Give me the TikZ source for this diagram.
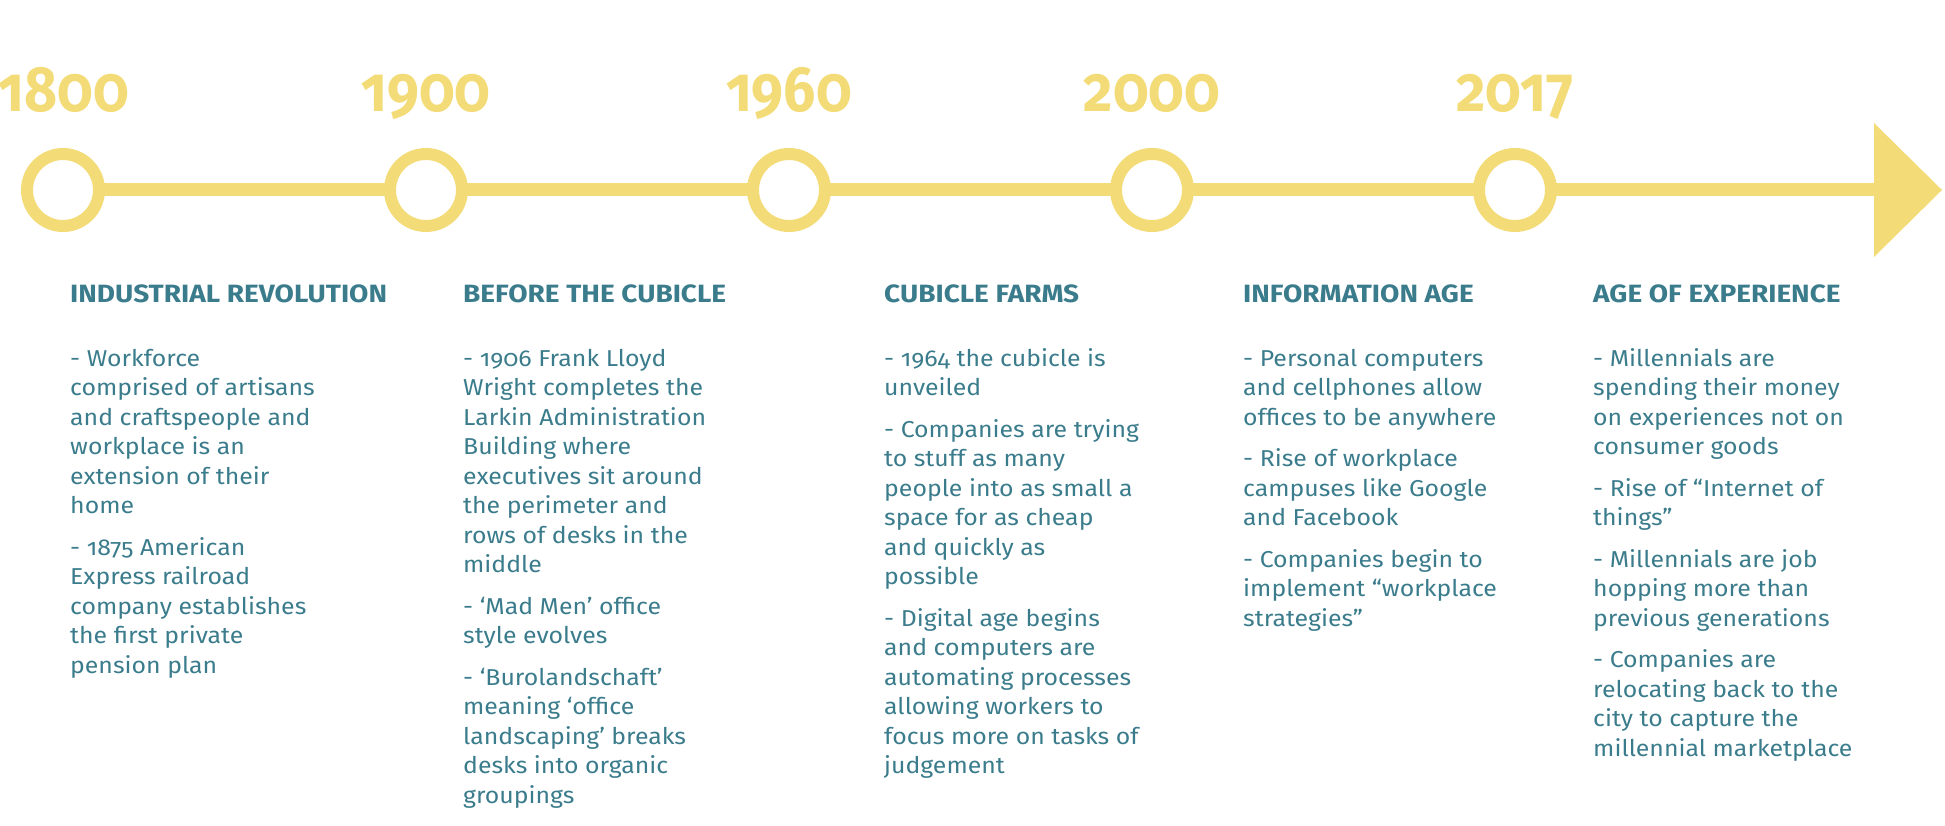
\documentclass[tikz,border=0pt]{standalone}
\usepackage{fontspec}
\setmainfont[Numbers=OldStyle,FakeStretch=1.08,BoldFeatures={FakeStretch=1.12}]{Fira Sans}
\newfontfamily\yearfont[Numbers=OldStyle,FakeStretch=0.89]{Fira Sans}
\definecolor{timeyellow}{HTML}{F3DC78}
\definecolor{tealtext}{HTML}{3B7C8C}
\begin{document}
\begin{tikzpicture}[x=1pt,y=-1pt,
  yearlabel/.style={anchor=base, text=timeyellow, inner sep=0,
    font=\yearfont\bfseries\fontsize{64}{64}\selectfont},
  milestone/.style={circle, draw=timeyellow, line width=12pt, fill=white,
    minimum size=72pt, inner sep=0},
  heading/.style={anchor=base west, text=tealtext, inner sep=0,
    font=\bfseries\fontsize{25}{30}\selectfont},
  % the first line carries a strut, so the top edge lies 0.7\baselineskip
  % above its baseline
  eventlist/.style={anchor=north west, text=tealtext, align=left, inner sep=0,
    font=\fontsize{23}{29.5}\selectfont},
]
\useasboundingbox (0,0) rectangle (1945,826);

% timeline axis
\coordinate (c1) at (63,190);
\coordinate (c2) at (426,190);
\coordinate (c3) at (789,190);
\coordinate (c4) at (1152,190);
\coordinate (c5) at (1515,190);
\coordinate (arrowbase) at (1874,190);
\coordinate (arrowtop) at (1874,123);
\coordinate (arrowbottom) at (1874,257);
\coordinate (arrowtip) at (1942,190);
\draw[timeyellow, line width=13pt] (c1) -- (arrowbase);
\fill[timeyellow] (arrowtop) -- (arrowtip) -- (arrowbottom) -- cycle;

% milestones
\node[milestone] (m1) at (c1) {};
\node[milestone] (m2) at (c2) {};
\node[milestone] (m3) at (c3) {};
\node[milestone] (m4) at (c4) {};
\node[milestone] (m5) at (c5) {};

% years
\node[yearlabel] (y1) at (64,112) {1800};
\node[yearlabel] (y2) at (426,112) {1900};
\node[yearlabel] (y3) at (789,112) {1960};
\node[yearlabel] (y4) at (1152,112) {2000};
\node[yearlabel] (y5) at (1515,112) {2017};

% eras: first text baseline at 366
\node[heading] (h1) at (70,302) {INDUSTRIAL REVOLUTION};
\node[eventlist] (e1) at (70,345.35) {\strut- Workforce\\comprised of artisans\\and craftspeople and\\workplace is an\\extension of their\\home\\[12pt]- 1875 American\\Express railroad\\company establishes\\the first private\\pension plan};

\node[heading] (h2) at (463,302) {BEFORE THE CUBICLE};
\node[eventlist] (e2) at (463,345.35) {\strut- 1906 Frank Lloyd\\Wright completes the\\Larkin Administration\\Building where\\executives sit around\\the perimeter and\\rows of desks in the\\middle\\[12pt]- ‘Mad Men’ office\\style evolves\\[12pt]- ‘Burolandschaft’\\meaning ‘office\\landscaping’ breaks\\desks into organic\\groupings};

\node[heading] (h3) at (884,302) {CUBICLE FARMS};
\node[eventlist] (e3) at (884,345.35) {\strut- 1964 the cubicle is\\unveiled\\[12pt]- Companies are trying\\to stuff as many\\people into as small a\\space for as cheap\\and quickly as\\possible\\[12pt]- Digital age begins\\and computers are\\automating processes\\allowing workers to\\focus more on tasks of\\judgement};

\node[heading] (h4) at (1243,302) {INFORMATION AGE};
\node[eventlist] (e4) at (1243,345.35) {\strut- Personal computers\\and cellphones allow\\offices to be anywhere\\[12pt]- Rise of workplace\\campuses like Google\\and Facebook\\[12pt]- Companies begin to\\implement “workplace\\strategies”};

\node[heading] (h5) at (1593,302) {AGE OF EXPERIENCE};
\node[eventlist] (e5) at (1593,345.35) {\strut- Millennials are\\spending their money\\on experiences not on\\consumer goods\\[12pt]- Rise of “Internet of\\things”\\[12pt]- Millennials are job\\hopping more than\\previous generations\\[12pt]- Companies are\\relocating back to the\\city to capture the\\millennial marketplace};
\end{tikzpicture}
\end{document}
